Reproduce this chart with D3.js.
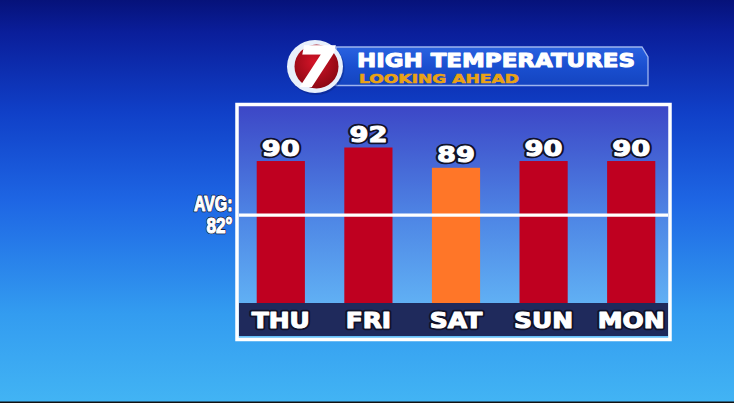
<!DOCTYPE html>
<html>
<head>
<meta charset="utf-8">
<script src="https://cdn.jsdelivr.net/npm/d3@7"></script>
<style>
  html, body { margin: 0; padding: 0; overflow: hidden; background: #0a1f9a; }
  svg { display: block; }
</style>
</head>
<body>
<svg id="chart" width="734" height="403"></svg>
<script>
// chart values
const days = ["THU", "FRI", "SAT", "SUN", "MON"];
const highs = [90, 92, 89, 90, 90];
const avgHigh = 82;
const title = "HIGH TEMPERATURES";
const subtitle = "LOOKING AHEAD";
const highlightDay = "SAT";

const W = 734, H = 403;
const svg = d3.select("#chart");
const defs = svg.append("defs");

function linGrad(id, x2, y2, stops) {
    const g = defs.append("linearGradient").attr("id", id)
        .attr("x1", 0).attr("y1", 0).attr("x2", x2).attr("y2", y2);
    stops.forEach(([o, c]) => g.append("stop").attr("offset", o).attr("stop-color", c));
}

linGrad("bg", 0, 1, [[0, "#06127a"], [0.08, "#0a1e9a"], [0.28, "#1040c8"], [0.5, "#1e66e4"], [0.78, "#339cf0"], [1, "#42b4f4"]]);
linGrad("panel", 0, 1, [[0, "#3c46c6"], [0.5, "#4f88e6"], [1, "#68c2fa"]]);
linGrad("banner", 0, 1, [[0, "#2a62e0"], [0.5, "#1a4fd0"], [1, "#1444c0"]]);

const redGrad = defs.append("radialGradient").attr("id", "logoRed")
    .attr("cx", "45%").attr("cy", "40%").attr("r", "60%");
redGrad.append("stop").attr("offset", 0).attr("stop-color", "#d41428");
redGrad.append("stop").attr("offset", 1).attr("stop-color", "#8e0814");

// background
svg.append("rect").attr("width", W).attr("height", H).attr("fill", "url(#bg)");
svg.append("rect").attr("x", 0).attr("y", H - 1.5).attr("width", W).attr("height", 1.5).attr("fill", "#111");

// scales
const x = d3.scaleBand().domain(days).range([237, 675]).paddingInner(0.45).paddingOuter(0.225);
const y = d3.scaleLinear().domain([69, 92]).range([303, 147.5]);

const frame = { x0: 237, x1: 670, y0: 104.5, y1: 339.5 };
const bandTop = 303, bandBottom = 336;

// panel
svg.append("rect")
    .attr("x", frame.x0).attr("y", frame.y0)
    .attr("width", frame.x1 - frame.x0).attr("height", frame.y1 - frame.y0)
    .attr("fill", "url(#panel)");

svg.append("rect")
    .attr("x", frame.x0 + 2).attr("y", bandTop)
    .attr("width", frame.x1 - frame.x0 - 4).attr("height", bandBottom - bandTop)
    .attr("fill", "#1f2a5c");

// bars
const barData = days.map((d, i) => ({ day: d, value: highs[i] }));
svg.append("g").selectAll("rect")
    .data(barData)
    .join("rect")
    .attr("x", d => x(d.day))
    .attr("y", d => y(d.value))
    .attr("width", x.bandwidth())
    .attr("height", d => y.range()[0] - y(d.value))
    .attr("fill", d => d.day === highlightDay ? "#ff7628" : "#bf0020");

// average line
svg.append("line")
    .attr("x1", frame.x0 + 2).attr("x2", frame.x1 - 2)
    .attr("y1", y(avgHigh)).attr("y2", y(avgHigh))
    .attr("stroke", "#ffffff").attr("stroke-width", 3.2);

// frame border
svg.append("rect")
    .attr("x", frame.x0).attr("y", frame.y0)
    .attr("width", frame.x1 - frame.x0).attr("height", frame.y1 - frame.y0)
    .attr("fill", "none").attr("stroke", "#ffffff").attr("stroke-width", 3.5);

// heavy white text with a dark rim: dark outline drawn under, white stroke on top to thicken
function heavyText(g, spec, outline, boldStroke) {
    g.selectAll("text.rim").data(spec.data).join("text").attr("class", "rim")
        .call(spec.attrs)
        .attr("fill", "#10122a").attr("stroke", "#10122a")
        .attr("stroke-width", outline).attr("stroke-linejoin", "round");
    g.selectAll("text.face").data(spec.data).join("text").attr("class", "face")
        .call(spec.attrs)
        .attr("fill", "#ffffff").attr("stroke", "#ffffff")
        .attr("stroke-width", boldStroke).attr("stroke-linejoin", "round");
}

// value labels
heavyText(svg.append("g"), {
    data: barData,
    attrs: s => s
        .attr("transform", d => `translate(${x(d.day) + x.bandwidth() / 2},${y(d.value) - 5.5}) scale(1.27,1)`)
        .attr("text-anchor", "middle")
        .attr("font-family", "DejaVu Sans")
        .attr("font-weight", "bold")
        .attr("font-size", 21.5)
        .text(d => d.value)
}, 4.5, 1);

// day labels
heavyText(svg.append("g"), {
    data: days,
    attrs: s => s
        .attr("transform", d => `translate(${x(d) + x.bandwidth() / 2},327.5) scale(1.16,1)`)
        .attr("text-anchor", "middle")
        .attr("font-family", "DejaVu Sans")
        .attr("font-weight", "bold")
        .attr("font-size", 21.5)
        .text(d => d)
}, 4.5, 1.1);

// average label
const avgLines = [
    { text: "AVG:", dy: -4.5, sx: 0.74 },
    { text: avgHigh + "°", dy: 18, sx: 0.8 }
];
heavyText(svg.append("g"), {
    data: avgLines,
    attrs: s => s
        .attr("transform", d => `translate(232.5,${y(avgHigh) + d.dy}) scale(${d.sx},1)`)
        .attr("text-anchor", "end")
        .attr("font-family", "Liberation Sans")
        .attr("font-weight", "bold")
        .attr("font-size", 21.5)
        .text(d => d.text)
}, 2.5, 1.2);

// title banner
svg.append("path")
    .attr("d", "M336,47 L642,47 L648,57 L648,85.5 L336,85.5 Z")
    .attr("fill", "url(#banner)")
    .attr("stroke", "#9db4ee").attr("stroke-width", 1.3);

svg.append("text")
    .attr("x", 357).attr("y", 66.8)
    .attr("font-family", "DejaVu Sans").attr("font-weight", "bold")
    .attr("font-size", 19)
    .attr("textLength", 278).attr("lengthAdjust", "spacingAndGlyphs")
    .attr("fill", "#ffffff")
    .attr("stroke", "#ffffff").attr("stroke-width", 1).attr("stroke-linejoin", "round")
    .text(title);

svg.append("text")
    .attr("x", 359).attr("y", 83.3)
    .attr("font-family", "DejaVu Sans").attr("font-weight", "bold")
    .attr("font-size", 13)
    .attr("textLength", 160).attr("lengthAdjust", "spacingAndGlyphs")
    .attr("fill", "#eaa214")
    .attr("stroke", "#eaa214").attr("stroke-width", 0.6)
    .text(subtitle);

// station logo
const logo = svg.append("g").attr("transform", "translate(315,66.5)");
logo.append("ellipse").attr("rx", 28.5).attr("ry", 27).attr("fill", "#0a1a6a").attr("opacity", 0.35)
    .attr("transform", "translate(1,1.5)");
logo.append("ellipse").attr("rx", 28).attr("ry", 26.5).attr("fill", "#e8f0fc");
logo.append("circle").attr("cx", 1.5).attr("r", 22).attr("fill", "url(#logoRed)");
logo.append("text")
    .attr("x", 1).attr("y", 19.5)
    .attr("text-anchor", "middle")
    .attr("font-family", "DejaVu Sans").attr("font-weight", "bold").attr("font-style", "italic")
    .attr("font-size", 55)
    .attr("fill", "#ffffff")
    .attr("stroke", "#ffffff").attr("stroke-width", 1.5)
    .text("7");
</script>
</body>
</html>
